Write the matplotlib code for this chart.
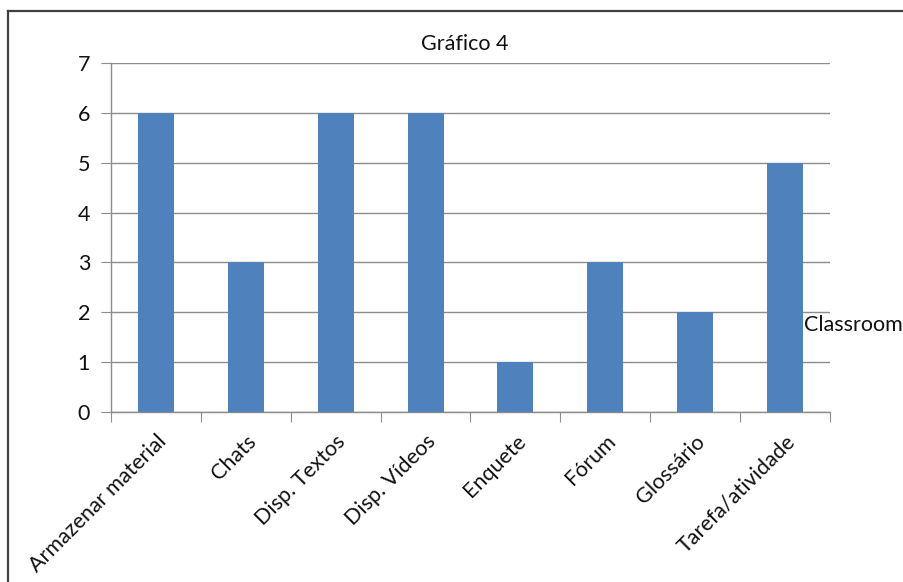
import matplotlib
matplotlib.use("Agg")
import matplotlib.pyplot as plt
from matplotlib.lines import Line2D

categories = ["Armazenar material", "Chats", "Disp. Textos", "Disp. Vídeos",
              "Enquete", "Fórum", "Glossário", "Tarefa/atividade"]
values = [6, 3, 6, 6, 1, 3, 2, 5]
series_name = "Classroom"
title = "Gráfico 4"

plt.rcParams['font.family'] = ['Lato', 'DejaVu Sans']
FS = 15.5

W, H = 904, 582
fig = plt.figure(figsize=(W / 100, H / 100), dpi=100)

# chart frame
fig.add_artist(Line2D([8 / W, 1], [1 - 11 / H, 1 - 11 / H], color="#404040", lw=1.6,
                      transform=fig.transFigure))
fig.add_artist(Line2D([8 / W, 8 / W], [0, 1 - 11 / H], color="#404040", lw=1.6,
                      transform=fig.transFigure))

ax = fig.add_axes([111 / W, 1 - 412 / H, (830 - 111) / W, (412 - 63) / H])
x = range(len(categories))
ax.bar(x, values, width=0.4, color="#4F81BD", zorder=3)

ax.set_xlim(-0.5, len(categories) - 0.5)
ax.set_ylim(0, 7)
ax.set_yticks(range(0, 8))
ax.yaxis.grid(True, color="#8C8C8C", lw=1.0, zorder=0)

for s in ["top", "right"]:
    ax.spines[s].set_visible(False)
for s in ["left", "bottom"]:
    ax.spines[s].set_color("#8C8C8C")
    ax.spines[s].set_linewidth(1.0)

ax.tick_params(axis="y", length=7, color="#8C8C8C", labelsize=FS, pad=8,
               labelcolor="#111111")
# category boundary ticks
ax.set_xticks([i - 0.5 for i in range(len(categories) + 1)], minor=False)
ax.set_xticklabels([])
ax.tick_params(axis="x", length=7, color="#8C8C8C")
for i, c in enumerate(categories):
    ax.annotate(c, xy=(i, 0), xycoords=("data", "axes fraction"),
                xytext=(5, -19), textcoords="offset points",
                rotation=45, ha="right", va="center", rotation_mode="anchor",
                fontsize=FS, color="#111111")

fig.text(465 / W, 1 - 44 / H, title, ha="center", va="center", fontsize=FS,
         color="#111111")
fig.text(804 / W, 1 - 325 / H, series_name, ha="left", va="center", fontsize=FS,
         color="#111111")

fig.savefig("out.png", dpi=100)
